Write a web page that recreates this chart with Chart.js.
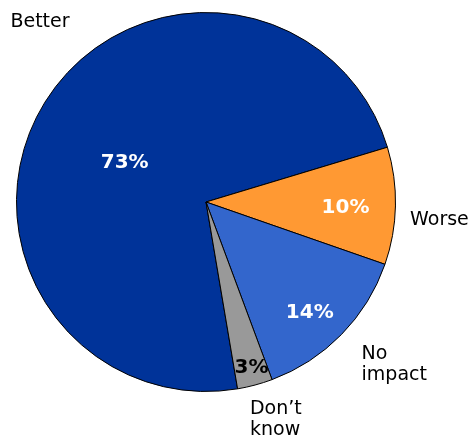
<!DOCTYPE html>
<html>
<head>
<meta charset="utf-8">
<script src="https://cdn.jsdelivr.net/npm/chart.js@4.4.0/dist/chart.umd.min.js"></script>
<style>
  html, body { margin: 0; padding: 0; background: #fff; }
  #wrap { width: 476px; height: 443px; }
</style>
</head>
<body>
<div id="wrap"><canvas id="pieChart" width="476" height="443"></canvas></div>
<script>
const categories = ['Better', 'Worse', 'No impact', "Don\u2019t know"];
const shares = [73, 10, 14, 3];
const valueLabels = ['73%', '10%', '14%', '3%'];
const outsideLabels = [['Better'], ['Worse'], ['No', 'impact'], ['Don\u2019t', 'know']];

const sliceColors = ['#003399', '#FF9933', '#3366CC', '#999999'];
const valueColors = ['#ffffff', '#ffffff', '#ffffff', '#000000'];
// value label: radius fraction + angle nudge (deg); outside label: anchor in radius units
const valuePos = [{ f: 0.476, da: -6.2 }, { f: 0.737, da: 1 }, { f: 0.80, da: 2.4 }, { f: 0.906, da: -0.4 }];
const outsidePos = [{ x: -1.032, y: -0.926 }, { x: 1.077, y: 0.121 }, { x: 0.821, y: 0.830 }, { x: 0.232, y: 1.121 }];

const pieLabels = {
  id: 'pieLabels',
  afterDatasetsDraw(chart) {
    const ctx = chart.ctx;
    const meta = chart.getDatasetMeta(0);
    ctx.save();
    meta.data.forEach((arc, i) => {
      const p = arc.getProps(['x', 'y', 'startAngle', 'endAngle', 'outerRadius'], true);
      const mid = (p.startAngle + p.endAngle) / 2 + valuePos[i].da * Math.PI / 180;
      const r = p.outerRadius * valuePos[i].f;
      ctx.font = 'bold 20px "DejaVu Sans"';
      ctx.fillStyle = valueColors[i];
      ctx.textAlign = 'center';
      ctx.textBaseline = 'middle';
      ctx.fillText(valueLabels[i], p.x + r * Math.cos(mid), p.y + r * Math.sin(mid));

      ctx.font = '19px "DejaVu Sans"';
      ctx.fillStyle = '#000';
      ctx.textAlign = 'left';
      ctx.textBaseline = 'alphabetic';
      const lx = p.x + outsidePos[i].x * p.outerRadius;
      const ly = p.y + outsidePos[i].y * p.outerRadius;
      outsideLabels[i].forEach((line, k) => ctx.fillText(line, lx, ly + k * 21));
    });
    ctx.restore();
  }
};

new Chart(document.getElementById('pieChart'), {
  type: 'pie',
  data: {
    labels: categories,
    datasets: [{
      data: shares,
      backgroundColor: sliceColors,
      borderColor: '#000',
      borderWidth: 1
    }]
  },
  options: {
    responsive: false,
    animation: false,
    rotation: 170.4,
    layout: { padding: { left: 16, right: 80, top: 12, bottom: 51 } },
    plugins: {
      legend: { display: false },
      tooltip: { enabled: false }
    }
  },
  plugins: [pieLabels]
});
</script>
</body>
</html>
